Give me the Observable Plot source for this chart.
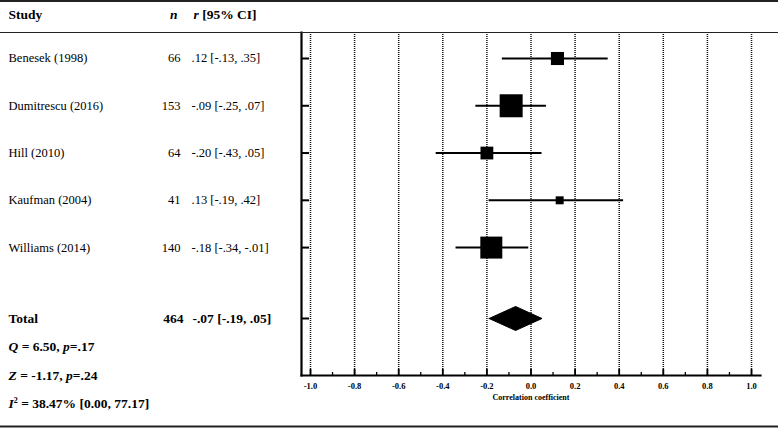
<!DOCTYPE html>
<html>
<head>
<meta charset="utf-8">
<script src="https://cdn.jsdelivr.net/npm/d3@7"></script>
<script src="https://cdn.jsdelivr.net/npm/@observablehq/plot@0.6"></script>
<style>
  html, body { margin: 0; padding: 0; background: white; }
  #chart { width: 778px; height: 428px; }
</style>
</head>
<body>
<div id="chart"></div>
<script>
// ---- Data ----
const studies  = ["Benesek (1998)", "Dumitrescu (2016)", "Hill (2010)", "Kaufman (2004)", "Williams (2014)"];
const nValues  = [66, 153, 64, 41, 140];
const rValues  = [0.12, -0.09, -0.20, 0.13, -0.18];
const ciLow    = [-0.13, -0.25, -0.43, -0.19, -0.34];
const ciHigh   = [0.35, 0.07, 0.05, 0.42, -0.01];
const weights  = [17.4, 27.1, 17.1, 12.4, 26.1];   // relative weights (box size)
const totalN   = 464;
const totalR   = -0.07;
const totalLow = -0.19;
const totalHigh = 0.05;
const qStat = "6.50", qP = ".17";
const zStat = "-1.17", zP = ".24";
const i2Stat = "38.47", i2Low = "0.00", i2High = "77.17";
const xTicks      = [-1.0, -0.8, -0.6, -0.4, -0.2, 0.0, 0.2, 0.4, 0.6, 0.8, 1.0];
const xTickLabels = ["-1.0", "-0.8", "-0.6", "-0.4", "-0.2", "0.0", "0.2", "0.4", "0.6", "0.8", "1.0"];
const xMinorTicks = [-0.9, -0.7, -0.5, -0.3, -0.1, 0.1, 0.3, 0.5, 0.7, 0.9];
const xLabel = "Correlation coefficient";

// ---- Helpers ----
const fmt = v => (v < 0 ? "-" : "") + Math.abs(v).toFixed(2).replace(/^0/, "");
const ciText = (r, lo, hi) => `${fmt(r)} [${fmt(lo)}, ${fmt(hi)}]`;

const N = studies.length;
const rows = studies.map((s, i) => ({
  study: s, n: nValues[i], r: rValues[i], lo: ciLow[i], hi: ciHigh[i], w: weights[i], row: i + 1,
  ci: ciText(rValues[i], ciLow[i], ciHigh[i])
}));
const totalRow = N + 1.5;
const headerRow = 0.07;
const diamondHalf = 0.254;
const diamond = [
  {x: totalLow, y: totalRow}, {x: totalR, y: totalRow - diamondHalf},
  {x: totalHigh, y: totalRow}, {x: totalR, y: totalRow + diamondHalf},
  {x: totalLow, y: totalRow}
];

const statSegs = [
  [["Q", "i"], [" = " + qStat + ", "], ["p", "i"], ["=" + qP]],
  [["Z", "i"], [" = " + zStat + ", "], ["p", "i"], ["=" + zP]],
  [["I", "i"], ["2", "sup"], [" = " + i2Stat + "% [" + i2Low + ", " + i2High + "]"]]
];
const stats = statSegs.map((segs, i) => ({text: segs.map(s => s[0]).join(""), row: N + 2.1 + 0.6 * i, segs}));
const headerCI = [["r", "i"], [" [95% CI]"]];
const rich = new Map(stats.map(s => [s.text, s.segs]));
rich.set(headerCI.map(s => s[0]).join(""), headerCI);

const tickLabelMap = new Map(xTicks.map((t, i) => [Math.round(t * 10), xTickLabels[i]]));

const LEFT = 301;
const font = "'Liberation Serif', 'Times New Roman', serif";

const svg = Plot.plot({
  width: 778, height: 428,
  marginLeft: LEFT, marginRight: 18, marginTop: 32, marginBottom: 53,
  style: {fontFamily: font, background: "white", color: "black"},
  x: {domain: [-1.0408, 1.0408]},
  y: {domain: [0.45, 7.706], reverse: true},
  r: {type: "linear", domain: [4.6, 27.1], range: [0, 12.98]},
  marks: [
    Plot.ruleX(xTicks, {stroke: "#111", strokeDasharray: "1,1", strokeWidth: 1.5}),
    Plot.axisY({ticks: [...rows.map(d => d.row), totalRow], tickSize: -8, strokeWidth: 2, tickFormat: () => "", label: null}),
    Plot.axisX({ticks: xTicks, tickSize: -6, strokeWidth: 1.8, tickFormat: () => "", label: null}),
    Plot.axisX({ticks: xMinorTicks, tickSize: -3, strokeWidth: 1.3, tickFormat: () => "", label: null}),
    Plot.axisX({ticks: xTicks, tickSize: 0, tickPadding: 7, fontSize: 8.5, fontWeight: "bold",
      tickFormat: d => tickLabelMap.get(Math.round(d * 10)), label: null}),
    Plot.text([xLabel], {frameAnchor: "bottom", dy: 24, fontSize: 8, fontWeight: "bold", text: d => d}),
    Plot.frame({anchor: "left", strokeWidth: 2.2}),
    Plot.frame({anchor: "bottom", strokeWidth: 2.2}),
    // confidence intervals
    Plot.ruleY(rows, {y: "row", x1: "lo", x2: "hi", stroke: "black", strokeWidth: 2}),
    Plot.dot(rows, {x: "r", y: "row", r: "w", symbol: "square", fill: "black", stroke: "none"}),
    Plot.line(diamond, {x: "x", y: "y", fill: "black", stroke: "black", strokeWidth: 1}),
    // table: header
    Plot.text(["Study"], {y: () => headerRow, text: d => d, frameAnchor: "left", dx: 8 - LEFT, textAnchor: "start", fontSize: 13.5, fontWeight: "bold"}),
    Plot.text(["n"], {y: () => headerRow, text: d => d, frameAnchor: "left", dx: 177 - LEFT, textAnchor: "end", fontSize: 13.5, fontWeight: "bold", fontStyle: "italic"}),
    Plot.text([headerCI.map(s => s[0]).join("")], {y: () => headerRow, text: d => d, frameAnchor: "left", dx: 193 - LEFT, textAnchor: "start", fontSize: 13.5, fontWeight: "bold"}),
    // table: studies
    Plot.text(rows, {y: "row", text: "study", frameAnchor: "left", dx: 8 - LEFT, textAnchor: "start", fontSize: 12.5}),
    Plot.text(rows, {y: "row", text: "n", frameAnchor: "left", dx: 180 - LEFT, textAnchor: "end", fontSize: 12.5}),
    Plot.text(rows, {y: "row", text: "ci", frameAnchor: "left", dx: 191 - LEFT, textAnchor: "start", fontSize: 12.5}),
    // total
    Plot.text(["Total"], {y: () => totalRow, text: d => d, frameAnchor: "left", dx: 8 - LEFT, textAnchor: "start", fontSize: 13.5, fontWeight: "bold"}),
    Plot.text([totalN], {y: () => totalRow, text: d => String(d), frameAnchor: "left", dx: 183 - LEFT, textAnchor: "end", fontSize: 13.5, fontWeight: "bold"}),
    Plot.text([ciText(totalR, totalLow, totalHigh)], {y: () => totalRow, text: d => d, frameAnchor: "left", dx: 192 - LEFT, textAnchor: "start", fontSize: 13.5, fontWeight: "bold"}),
    // heterogeneity stats
    Plot.text(stats, {y: "row", text: "text", frameAnchor: "left", dx: 8 - LEFT, textAnchor: "start", fontSize: 13.5, fontWeight: "bold"})
  ]
});

// rich text (italic / superscript parts)
d3.select(svg).selectAll("text").each(function () {
  const segs = rich.get(this.textContent);
  if (!segs) return;
  const el = d3.select(this);
  el.text(null);
  let sup = false;
  segs.forEach(([t, kind]) => {
    const ts = el.append("tspan").text(t);
    if (kind === "i") ts.attr("font-style", "italic");
    if (kind === "sup") { ts.attr("font-size", 8).attr("dy", "-5"); sup = true; }
    else if (sup) { ts.attr("dy", "5"); sup = false; }
  });
});

// page rules (top border, header separator, bottom border)
const s = d3.select(svg);
s.append("line").attr("x1", 0).attr("x2", 778).attr("y1", 1).attr("y2", 1).attr("stroke", "#222").attr("stroke-width", 2);
s.append("line").attr("x1", 0).attr("x2", 778).attr("y1", 32.5).attr("y2", 32.5).attr("stroke", "#222").attr("stroke-width", 1.2);
s.append("line").attr("x1", 0).attr("x2", 778).attr("y1", 426.5).attr("y2", 426.5).attr("stroke", "#222").attr("stroke-width", 2);

document.getElementById("chart").appendChild(svg);
</script>
</body>
</html>
